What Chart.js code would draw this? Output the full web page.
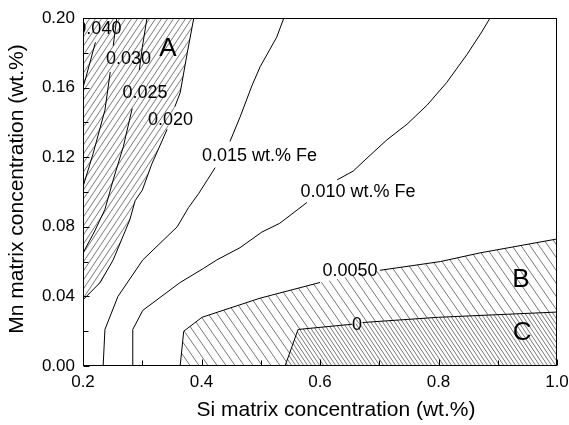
<!DOCTYPE html>
<html>
<head>
<meta charset="utf-8">
<script src="https://cdn.jsdelivr.net/npm/chart.js@4/dist/chart.umd.min.js"></script>
<style>
  html, body { margin: 0; padding: 0; background: #fff; }
  #wrap { width: 569px; height: 425px; }
</style>
</head>
<body>
<div id="wrap"><canvas id="c"></canvas></div>
<script>
// Axis ticks: Si (x) and Mn (y) matrix concentration, wt.%
const siTicks = [0.2, 0.4, 0.6, 0.8, 1.0];
const mnTicks = [0.00, 0.04, 0.08, 0.12, 0.16, 0.20];
const xTitle = 'Si matrix concentration (wt.%)';
const yTitle = 'Mn matrix concentration (wt.%)';

// Iso-Fe contours as [Si, Mn] pairs; null = break where the contour label sits
const fe040 = [[0.200, 0.160], [0.205, 0.166], [0.213, 0.176], [0.221, 0.186]];
const fe030 = [[0.257, 0.200], [0.251, 0.184], null, [0.246, 0.169], [0.237, 0.147], [0.217, 0.122], [0.200, 0.103]];
const fe025 = [[0.308, 0.200], [0.300, 0.183], [0.295, 0.170], null, [0.283, 0.148], [0.268, 0.126], [0.251, 0.107],
               [0.237, 0.090], [0.219, 0.077], [0.200, 0.065]];
const fe020 = [[0.200, 0.038], [0.229, 0.048], [0.251, 0.061], [0.279, 0.084], [0.288, 0.095], [0.300, 0.101],
               [0.316, 0.116], [0.342, 0.136], null, [0.355, 0.149], [0.364, 0.157], [0.376, 0.180], [0.387, 0.200]];
const fe015 = [[0.234, 0.000], [0.237, 0.021], [0.259, 0.040], [0.301, 0.061], [0.359, 0.080], [0.378, 0.091],
               [0.395, 0.099], [0.410, 0.107], [0.423, 0.114], null, [0.448, 0.129], [0.465, 0.143], [0.485, 0.161],
               [0.499, 0.172], [0.527, 0.189], [0.539, 0.200]];
const fe010 = [[0.283, 0.000], [0.284, 0.021], [0.301, 0.032], [0.364, 0.048], [0.403, 0.056], [0.426, 0.061],
               [0.465, 0.068], [0.502, 0.077], [0.532, 0.082], [0.578, 0.094], null, [0.629, 0.107], [0.656, 0.112],
               [0.681, 0.120], [0.713, 0.130], [0.747, 0.139], [0.781, 0.150], [0.814, 0.163], [0.848, 0.179],
               [0.873, 0.192], [0.887, 0.200]];
const fe005 = [[0.364, 0.000], [0.370, 0.020], [0.401, 0.028], [0.499, 0.039], [0.600, 0.048], null,
               [0.701, 0.055], [0.803, 0.060], [0.870, 0.065], [1.000, 0.073]];
const fe000 = [[0.541, 0.000], [0.563, 0.021], [0.654, 0.024], null, [0.672, 0.025], [0.800, 0.028], [1.000, 0.031]];

// Contour labels and region letters, anchored at [Si, Mn]
const contourLabels = [
  { text: '0.040', at: [0.2268, 0.1937] },
  { text: '0.030', at: [0.2768, 0.1764] },
  { text: '0.025', at: [0.3046, 0.1569] },
  { text: '0.020', at: [0.3477, 0.1414] },
  { text: '0.015 wt.% Fe', at: [0.4979, 0.1207] },
  { text: '0.010 wt.% Fe', at: [0.6641, 0.1000] },
  { text: '0.0050', at: [0.6506, 0.0546] },
  { text: '0', at: [0.6624, 0.0236] }
];
const regionLabels = [
  { text: 'A', at: [0.3434, 0.1822] },
  { text: 'B', at: [0.9393, 0.0494] },
  { text: 'C', at: [0.9410, 0.0190] }
];

const FONT = "'Liberation Sans', Arial, Helvetica, sans-serif";

// Diagonal hatch tile; dir > 0 draws "/", dir < 0 draws "\"
function hatch(w, h, dir, color, lw, bg) {
  const c = document.createElement('canvas');
  c.width = w; c.height = h;
  const g = c.getContext('2d');
  if (bg) { g.fillStyle = bg; g.fillRect(0, 0, w, h); }
  g.strokeStyle = color; g.lineWidth = lw;
  g.beginPath();
  for (let k = -1; k <= 1; k++) {
    if (dir > 0) { g.moveTo(k * w, h); g.lineTo(k * w + w, 0); }
    else { g.moveTo(k * w, 0); g.lineTo(k * w + w, h); }
  }
  g.stroke();
  return g.createPattern(c, 'repeat');
}

const toPts = arr => arr.map((p, i) => p ? { x: p[0], y: p[1] } : { x: arr[i - 1][0], y: null });
const solid = arr => arr.filter(Boolean).map(p => ({ x: p[0], y: p[1] }));

function contour(arr) {
  return {
    type: 'scatter', showLine: true, data: toPts(arr), borderColor: '#000', borderWidth: 1,
    pointRadius: 0, fill: false, spanGaps: false, tension: 0, order: 0
  };
}
function region(arr, fill, pattern, order) {
  return {
    type: 'scatter', showLine: true, data: solid(arr), borderWidth: 0, borderColor: 'rgba(0,0,0,0)',
    pointRadius: 0, fill: fill, backgroundColor: pattern, tension: 0, order: order
  };
}

const minorBetween = t => t.slice(1).map((v, i) => (v + t[i]) / 2);

const decor = {
  id: 'decor',
  afterDatasetsDraw(chart) {
    const { ctx, chartArea: a, scales: { x, y } } = chart;
    ctx.save();
    // contour labels, clipped to the plot box
    ctx.beginPath();
    ctx.rect(a.left, a.top, a.right - a.left, a.bottom - a.top);
    ctx.clip();
    ctx.fillStyle = '#000';
    ctx.textAlign = 'center';
    ctx.textBaseline = 'middle';
    ctx.font = '18px ' + FONT;
    contourLabels.forEach(l => ctx.fillText(l.text, x.getPixelForValue(l.at[0]), y.getPixelForValue(l.at[1])));
    ctx.font = '26px ' + FONT;
    regionLabels.forEach(l => ctx.fillText(l.text, x.getPixelForValue(l.at[0]), y.getPixelForValue(l.at[1])));
    ctx.restore();

    // frame and inward ticks
    ctx.save();
    ctx.strokeStyle = '#000';
    ctx.lineWidth = 1;
    const L = Math.round(a.left) + 0.5, R = Math.round(a.right) - 0.5;
    const T = Math.round(a.top) + 0.5, B = Math.round(a.bottom) - 0.5;
    ctx.strokeRect(L, T, R - L, B - T);
    ctx.beginPath();
    const xt = (v, len) => { const p = Math.round(x.getPixelForValue(v)) + 0.5; ctx.moveTo(p, B); ctx.lineTo(p, B - len); };
    const yt = (v, len) => { const p = Math.round(y.getPixelForValue(v)) + 0.5; ctx.moveTo(L, p); ctx.lineTo(L + len, p); };
    siTicks.forEach(v => xt(v, 6));
    minorBetween(siTicks).forEach(v => xt(v, 5));
    mnTicks.forEach(v => yt(v, 6));
    minorBetween(mnTicks).forEach(v => yt(v, 5));
    ctx.stroke();

    // axis titles
    ctx.fillStyle = '#000';
    ctx.font = '21px ' + FONT;
    ctx.textAlign = 'center';
    ctx.textBaseline = 'middle';
    ctx.fillText(xTitle, (a.left + a.right) / 2 + 16, a.bottom + 44);
    ctx.translate(17, (a.top + a.bottom) / 2 - 3);
    ctx.rotate(-Math.PI / 2);
    ctx.fillText(yTitle, 0, 0);
    ctx.restore();
  }
};

const hatchA = hatch(6, 9, 1, '#555', 0.8);
const hatchB = hatch(9, 13, -1, '#555', 0.8);
const hatchC = hatch(4, 6, -1, '#555', 0.8, '#fff');

new Chart(document.getElementById('c'), {
  type: 'scatter',
  data: {
    datasets: [
      region(fe020, 'end', hatchA, 3),
      region(fe005, 'origin', hatchB, 3),
      region(fe000, 'origin', hatchC, 2),
      contour(fe040), contour(fe030), contour(fe025), contour(fe020),
      contour(fe015), contour(fe010), contour(fe005), contour(fe000)
    ]
  },
  options: {
    responsive: true,
    maintainAspectRatio: false,
    animation: false,
    events: [],
    layout: { padding: { top: 18, right: 12, left: 0, bottom: 0 } },
    plugins: { legend: { display: false }, tooltip: { enabled: false } },
    scales: {
      x: {
        type: 'linear', min: 0.2, max: 1.0,
        afterBuildTicks: s => { s.ticks = siTicks.map(v => ({ value: v })); },
        afterFit: s => { s.height = 59; s.paddingLeft = 0; s.paddingRight = 0; },
        grid: { display: false, drawTicks: false },
        border: { display: false },
        ticks: { color: '#000', padding: 6, font: { family: FONT, size: 17 }, callback: v => v.toFixed(1), maxRotation: 0 },
        title: { display: false }
      },
      y: {
        type: 'linear', min: 0, max: 0.2,
        afterBuildTicks: s => { s.ticks = mnTicks.map(v => ({ value: v })); },
        afterFit: s => { s.width = 83; s.paddingTop = 0; s.paddingBottom = 0; },
        grid: { display: false, drawTicks: false },
        border: { display: false },
        ticks: { color: '#000', padding: 8, font: { family: FONT, size: 17 }, callback: v => v.toFixed(2) },
        title: { display: false }
      }
    }
  },
  plugins: [decor]
});
</script>
</body>
</html>
